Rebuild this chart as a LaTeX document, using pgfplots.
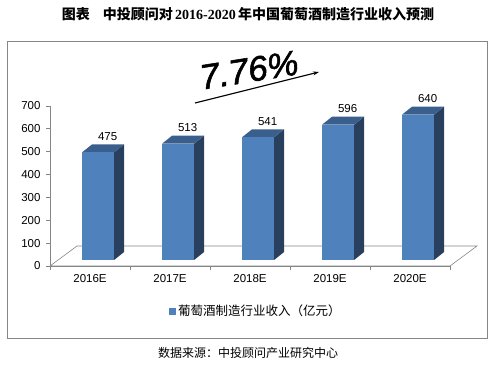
\documentclass[border=0pt]{standalone}
\usepackage{pgfplots}
\pgfplotsset{compat=1.18}
\usepackage{pgfplotstable}
\usepackage{fontspec}
\setmainfont{Liberation Serif}
\newfontfamily\arial{Liberation Sans}
\newfontfamily\arialfb{Liberation Sans}[FakeBold=1.6]
\newfontfamily\cjk{Noto Sans CJK SC}
\usetikzlibrary{arrows.meta}
\definecolor{front}{HTML}{4F81BD}
\definecolor{side}{HTML}{283F5E}
\definecolor{topc}{HTML}{3A5F8C}
\definecolor{axgray}{HTML}{868686}

\pgfplotstableread{
x v
0 475
1 513
2 541
3 596
4 640
}\datatable

\begin{document}
\begin{tikzpicture}
\useasboundingbox (0,0) rectangle (497pt,369pt);
% frame
\draw[axgray, line width=0.9pt] (7pt,31pt) rectangle (487pt,328pt);
% title
\node[anchor=center, font=\fontsize{14}{16}\selectfont] at (248pt,355pt)
  {{\cjk\bfseries 图表}\hspace{13pt}{\cjk\bfseries 中投顾问对}\,{\bfseries 2016-2020}\,{\cjk\bfseries 年中国葡萄酒制造行业收入预测}};
% source
\node[anchor=center, font=\cjk\fontsize{12}{14}\selectfont] at (248pt,16pt) {数据来源：中投顾问产业研究中心};
% growth annotation
\node[anchor=center, rotate=9, font=\arialfb\itshape\fontsize{35}{37}\selectfont] at (249pt,299pt) {7.76\%};
\draw[-{Stealth[length=6pt,width=4pt]}, line width=1.1pt] (195pt,266pt) -- (319pt,297pt);

\begin{axis}[
  at={(50pt,103pt)}, anchor=south west,
  scale only axis, width=400pt, height=160pt,
  xmin=-0.5, xmax=4.5, ymin=0, ymax=700,
  clip=false,
  axis x line*=bottom, axis y line*=left,
  axis line style={axgray, line width=0.8pt, -},
  ytick={0,100,...,700},
  xtick={0,1,2,3,4},
  xticklabels={2016E,2017E,2018E,2019E,2020E},
  minor xtick={-0.5,0.5,...,4.5},
  tick align=outside,
  major tick length=4pt, minor tick length=4pt,
  major x tick style={draw=none},
  minor x tick style={axgray, line width=0.8pt},
  major y tick style={axgray, line width=0.8pt},
  /pgf/number format/assume math mode=true,
  tick label style={font=\arial\fontsize{11.5}{13}\selectfont, text=black},
  yticklabel style={xshift=-2pt},
  xticklabel style={yshift=-1pt},
  legend style={at={(0.515,-0.281)}, anchor=center, draw=none, fill=none,
    font=\cjk\fontsize{12.5}{14}\selectfont, inner sep=0pt},
  legend image code/.code={\fill[front] (0pt,-3pt) rectangle (6pt,3pt);},
]
% floor
\addplot[draw=axgray, line width=0.6pt, fill=white] coordinates {(-0.5,0) (4.5,0) (4.8375,87.5) (-0.1625,87.5)} -- cycle;
\addplot[draw=axgray, line width=0.8pt] coordinates {(-0.5,0) (4.5,0)};

\pgfplotsinvokeforeach{0,...,4}{
  \pgfplotstablegetelem{#1}{v}\of\datatable
  \pgfmathsetmacro\vtop{\pgfplotsretval+22}
  \pgfmathsetmacro\vback{\vtop+35}
  \pgfmathsetmacro\xl{#1-0.1}
  \pgfmathsetmacro\xr{#1+0.3}
  \pgfmathsetmacro\xlb{#1+0.025}
  \pgfmathsetmacro\xrb{#1+0.425}
  \edef\doplots{
    \noexpand\addplot[fill=side, draw=none, forget plot] coordinates {(\xr,26) (\xrb,61) (\xrb,\vback) (\xr,\vtop)} -- cycle;
    \noexpand\addplot[fill=topc, draw=none, forget plot] coordinates {(\xl,\vtop) (\xr,\vtop) (\xrb,\vback) (\xlb,\vback)} -- cycle;
    \noexpand\addplot[fill=front, draw=none, forget plot] coordinates {(\xl,26) (\xr,26) (\xr,\vtop) (\xl,\vtop)} -- cycle;
  }
  \doplots
}

% data labels
\addplot[only marks, mark=none, forget plot,
  point meta=explicit,
  nodes near coords={\pgfmathprintnumber{\pgfplotspointmeta}},
  nodes near coords style={anchor=south, inner sep=3.5pt, font=\arial\fontsize{11.5}{13}\selectfont, text=black},
  ] table[x expr=\thisrow{x}+0.22, y expr=\thisrow{v}+57, meta=v] {\datatable};

\addlegendimage{area legend}
\addlegendentry{葡萄酒制造行业收入（亿元）}
\end{axis}
\end{tikzpicture}
\end{document}
